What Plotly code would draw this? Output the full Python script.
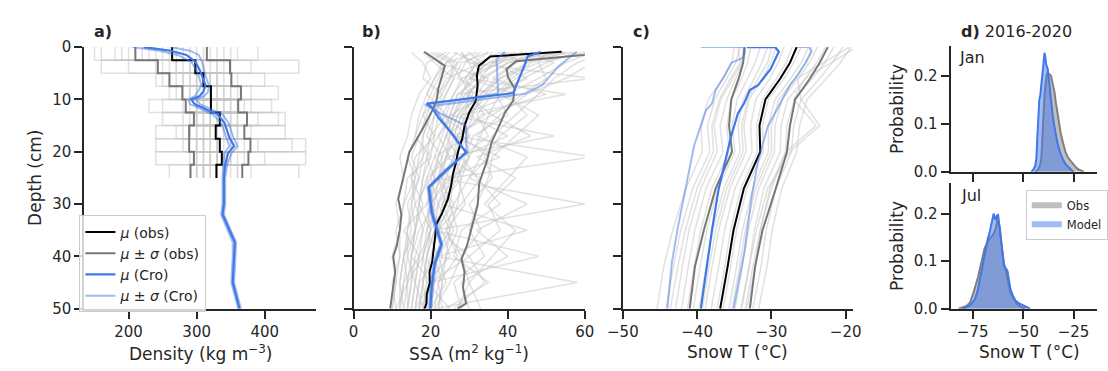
import plotly.graph_objects as go

W, H = 1108, 371
FONT = "DejaVu Sans"
AX = "#262626"

# ---------------- Panel a: density ----------------
a_layer_edges = [0, 2.5, 5, 7.5, 10, 12.5, 15, 17.5, 20, 22.5, 25]
a_obs_mean = [264, 298, 310, 321, 321, 334, 328, 334, 337, 329]
a_obs_lo = [210, 243, 260, 279, 284, 296, 289, 289, 296, 291]
a_obs_hi = [315, 349, 351, 365, 361, 374, 370, 379, 376, 367]
a_obs_profiles = [
    [160, 250, 300, 330, 310, 350, 320, 300, 330, 310],
    [250, 330, 290, 300, 360, 310, 290, 340, 350, 320],
    [300, 260, 340, 350, 300, 330, 380, 310, 300, 340],
    [220, 290, 310, 280, 330, 390, 330, 360, 320, 300],
    [340, 380, 270, 320, 290, 300, 350, 280, 370, 350],
    [180, 200, 320, 360, 340, 320, 300, 330, 340, 290],
    [270, 310, 360, 300, 250, 340, 310, 390, 310, 360],
    [390, 350, 300, 270, 320, 360, 340, 320, 290, 330],
    [230, 160, 280, 340, 370, 290, 270, 300, 360, 310],
    [310, 300, 330, 310, 300, 420, 360, 350, 330, 380],
    [200, 270, 250, 380, 330, 310, 320, 440, 345, 300],
    [280, 330, 310, 290, 350, 330, 290, 310, 400, 340],
    [150, 290, 350, 320, 280, 300, 430, 320, 310, 320],
    [360, 320, 290, 340, 320, 350, 330, 240, 330, 360],
    [240, 450, 320, 310, 410, 340, 310, 350, 340, 330],
    [290, 280, 240, 300, 340, 280, 350, 330, 460, 300],
    [330, 240, 330, 420, 300, 360, 300, 370, 320, 450],
    [210, 310, 300, 330, 230, 320, 340, 460, 300, 310],
    [260, 350, 400, 290, 360, 250, 280, 310, 350, 260],
    [350, 300, 320, 350, 310, 430, 320, 300, 240, 340],
    [190, 340, 280, 260, 350, 320, 240, 350, 330, 330],
    [320, 270, 330, 310, 380, 300, 360, 330, 320, 310],
]
a_cro_depth = [0, 0.7, 1.5, 2.8, 4.5, 5.5, 7.3, 8.5, 9.4, 10.0, 10.9, 12.9, 14.5,
               17.3, 18.9, 20.3, 22.4, 25, 30, 32, 35, 37.3, 40, 45, 50]
a_cro_mean = [222, 262, 285, 298, 305, 308, 313, 310, 304, 292, 297, 331, 341,
              348, 355, 346, 342, 340, 340, 338, 348, 356, 355, 353, 363]
a_cro_lo = [205, 245, 272, 292, 300, 303, 307, 302, 297, 288, 290, 324, 336,
            343, 348, 341, 339, 338, 338, 336, 345, 353, 353, 351, 361]
a_cro_hi = [262, 290, 303, 308, 311, 313, 318, 317, 311, 299, 305, 338, 347,
            354, 360, 351, 345, 342, 342, 340, 350, 358, 357, 355, 365]

# ---------------- Panel b: SSA ----------------
b_mean_depth = [0.9, 1.8, 3.6, 5.5, 7.3, 10.3, 12.5, 15, 17.5, 20, 22, 24.2, 26.5,
                29, 32, 33.8, 36, 38.7, 41, 43, 45, 47.2, 49, 50]
b_obs_mean = [54, 35.5, 32.5, 32, 32.2, 31.7, 30, 28.8, 28.2, 27.1, 26.6, 25.8, 25.3,
              24.5, 22.8, 21.5, 21.2, 20.7, 20.4, 19.7, 19.8, 19, 18.9, 18.4]
b_lo_depth = [0.9, 3.6, 7.9, 10.3, 12, 15.8, 20, 24.2, 29, 32, 35, 38, 40, 43, 45.6, 48, 50]
b_obs_lo = [18.3, 23.7, 22, 21.5, 20.5, 17.8, 14.5, 13.2, 11.6, 12.4, 12, 11.2, 10.3, 10.8,
            10.3, 10.0, 9.5]
b_hi_depth = [1.2, 1.5, 2.7, 4.2, 5.8, 7.9, 10.3, 12.5, 15, 18, 22, 26, 30.2, 33, 35, 38,
              40.5, 43, 46, 49, 50]
b_obs_hi = [62, 59.6, 42.2, 39.7, 40.1, 41.8, 41.4, 39.3, 37.8, 35.9, 34.5, 32.6, 32.2,
            31.2, 30.5, 29.4, 28, 28.8, 28.4, 29.2, 27]
b_cro_depth = [0.9, 1.8, 3.6, 8.8, 10.8, 11.5, 13.5, 16.5, 20.1, 23.7, 26.8, 31.6,
               37.7, 41.3, 45.6, 50]
b_cro_mean = [48.6, 45.2, 44.3, 41.4, 19.0, 20.3, 22.0, 25.5, 29.2, 23.8, 19.5, 20.3,
              22.8, 21.1, 20.3, 19.9]
b_cro_lo_depth = [0.9, 2.4, 8.9, 11.0, 12.5, 15, 20.1, 23.7, 26.8, 31.6, 37.7, 41.3, 45.6, 50]
b_cro_lo = [39.3, 37.1, 37.5, 18.5, 22.0, 29.2, 29.3, 24.1, 19.8, 20.6, 23.1, 21.4, 20.6, 20.2]
b_cro_hi_depth = [0.9, 3.6, 7.3, 8.9, 11.2, 12.2, 18.3, 20.1, 23.7, 26.8, 31.6, 37.7, 41.3,
                  45.6, 50]
b_cro_hi = [57.9, 53.3, 48.9, 44.7, 21.0, 21.5, 27.0, 29.5, 23.5, 19.2, 20.0, 22.5, 20.8,
            20.0, 19.6]
b_gray_depth = [1, 3, 6, 9, 13, 17, 21, 25, 30, 35, 40, 45, 50]
b_gray_profiles = [
    [45, 38, 30, 28, 26, 24, 22, 21, 20, 18, 17, 16, 15],
    [20, 25, 28, 30, 26, 22, 25, 19, 17, 20, 18, 14, 13],
    [58, 50, 42, 38, 35, 33, 30, 28, 27, 25, 24, 22, 23],
    [30, 33, 24, 22, 20, 18, 17, 16, 15, 14, 13, 12, 12],
    [62, 55, 48, 40, 45, 38, 34, 36, 30, 33, 28, 30, 27],
    [25, 22, 35, 32, 28, 30, 26, 24, 22, 21, 19, 18, 17],
    [40, 42, 36, 50, 33, 28, 35, 30, 26, 24, 27, 22, 21],
    [15, 18, 20, 17, 15, 14, 12, 13, 11, 12, 10, 11, 10],
    [52, 45, 40, 35, 30, 40, 28, 32, 38, 28, 26, 35, 24],
    [35, 28, 26, 24, 22, 21, 20, 18, 17, 16, 15, 14, 14],
    [60, 62, 55, 45, 38, 32, 45, 40, 34, 42, 36, 30, 33],
    [28, 30, 32, 27, 25, 23, 21, 25, 20, 19, 22, 17, 16],
    [48, 40, 33, 30, 34, 27, 24, 22, 24, 20, 18, 19, 18],
    [22, 27, 23, 21, 19, 17, 15, 17, 14, 15, 13, 14, 11],
    [55, 35, 30, 42, 28, 26, 30, 27, 23, 26, 22, 24, 20],
    [38, 45, 38, 34, 30, 28, 26, 23, 25, 22, 20, 18, 19],
    [32, 24, 21, 19, 24, 20, 18, 15, 18, 16, 14, 16, 15],
    [65, 58, 52, 48, 42, 36, 33, 30, 45, 32, 40, 28, 30],
    [18, 21, 26, 24, 21, 19, 23, 20, 16, 18, 16, 15, 14],
    [42, 36, 45, 36, 32, 35, 28, 26, 22, 25, 21, 23, 22],
    [50, 48, 38, 33, 27, 25, 24, 33, 28, 22, 30, 20, 18],
    [26, 32, 29, 26, 23, 30, 21, 19, 21, 17, 15, 20, 16],
    [57, 40, 34, 29, 36, 26, 38, 24, 20, 23, 25, 19, 25],
    [33, 29, 27, 35, 25, 22, 19, 21, 19, 13, 17, 13, 12],
    [46, 52, 44, 38, 48, 42, 36, 35, 32, 30, 34, 26, 28],
    [24, 19, 18, 23, 18, 16, 20, 14, 13, 11, 12, 10, 11],
    [36, 34, 31, 28, 31, 24, 27, 22, 26, 21, 19, 21, 17],
    [60, 48, 50, 44, 36, 46, 32, 42, 35, 38, 30, 34, 26],
    [28, 30, 62, 27, 25, 52, 24, 22, 60, 21, 48, 20, 19],
    [40, 35, 30, 55, 28, 26, 62, 25, 23, 45, 22, 58, 21],
    [30, 27, 25, 23, 21, 20, 19, 18, 17, 16, 15, 15, 14],
    [38, 32, 29, 31, 27, 25, 23, 22, 21, 20, 19, 18, 17],
    [27, 24, 22, 20, 18, 21, 16, 15, 16, 14, 14, 13, 12],
    [44, 36, 33, 30, 29, 27, 26, 28, 23, 22, 23, 21, 20],
    [21, 26, 25, 22, 20, 18, 18, 17, 15, 16, 13, 12, 13],
    [35, 31, 34, 29, 26, 24, 22, 20, 22, 19, 18, 17, 16],
    [50, 42, 37, 33, 31, 29, 30, 26, 25, 27, 24, 23, 22],
    [19, 23, 21, 19, 17, 16, 14, 16, 13, 12, 12, 11, 10],
    [41, 38, 28, 26, 24, 26, 24, 23, 19, 20, 17, 16, 18],
    [55, 46, 41, 37, 40, 31, 29, 27, 29, 24, 28, 25, 21],
]

# ---------------- Panel c: snow temperature ----------------
c_depth = [0, 3, 6, 10, 15, 20, 27, 35, 42, 50]
c_obs_mean = [-26.6, -27.5, -28.8, -30.8, -31.6, -31.5, -33.7, -35.1, -35.9, -36.9]
c_obs_lo = [-33.6, -33.8, -34.4, -35.4, -35.7, -35.3, -37.5, -39.1, -40.3, -41.0]
c_obs_hi = [-22.4, -23.5, -24.8, -26.8, -27.5, -27.9, -29.4, -31.2, -32.2, -32.9]
c_gray_profiles = [
    [-35.0, -35.3, -36.5, -38.5, -39.5, -39.3, -41.5, -43.3, -44.5, -45.4],
    [-34.2, -34.8, -36.0, -37.6, -38.6, -38.3, -40.6, -42.2, -43.2, -44.2],
    [-34.5, -34.2, -35.5, -37.0, -38.0, -37.8, -40.0, -41.6, -42.6, -43.6],
    [-33.8, -34.0, -35.2, -36.8, -37.7, -37.3, -39.5, -41.1, -42.0, -42.9],
    [-33.5, -33.8, -34.8, -36.0, -36.9, -36.5, -38.8, -40.3, -41.2, -42.1],
    [-32.8, -33.2, -34.0, -35.4, -36.0, -35.7, -38.0, -39.5, -40.4, -41.3],
    [-31.5, -32.2, -33.2, -34.6, -35.3, -34.9, -37.2, -38.7, -39.6, -40.5],
    [-30.5, -31.3, -32.3, -33.8, -34.5, -34.2, -36.4, -37.9, -38.8, -39.7],
    [-30.0, -30.5, -31.8, -33.2, -34.0, -33.8, -36.0, -37.5, -38.4, -39.3],
    [-29.4, -30.1, -31.2, -33.0, -33.7, -33.4, -35.6, -37.1, -38.0, -38.9],
    [-28.3, -29.1, -30.2, -32.1, -32.8, -32.6, -34.9, -36.3, -37.1, -38.1],
    [-27.2, -28.0, -29.3, -31.2, -32.0, -31.9, -34.1, -35.5, -36.3, -37.3],
    [-26.0, -27.0, -28.3, -30.4, -31.2, -31.1, -33.3, -34.7, -35.5, -36.5],
    [-25.0, -26.0, -27.4, -29.5, -30.4, -30.4, -32.5, -33.9, -34.7, -35.7],
    [-24.5, -25.3, -26.8, -29.0, -30.0, -30.0, -32.1, -33.5, -34.3, -35.3],
    [-23.8, -24.9, -26.4, -28.6, -29.5, -29.6, -31.7, -33.1, -33.9, -34.9],
    [-22.7, -23.9, -25.4, -27.8, -28.7, -28.8, -31.0, -32.3, -33.0, -34.1],
    [-21.6, -22.8, -24.5, -26.9, -27.9, -28.1, -30.2, -31.5, -32.2, -33.3],
    [-20.4, -21.8, -23.5, -26.0, -27.0, -27.3, -29.4, -30.7, -31.4, -32.5],
    [-19.3, -20.7, -22.6, -25.2, -26.2, -26.6, -28.6, -29.9, -30.6, -31.7],
    [-18.5, -22.0, -25.5, -27.0, -24.0, -28.0, -30.0, -31.5, -32.5, -33.5],
    [-19.5, -23.0, -26.5, -26.0, -23.5, -27.5, -30.5, -32.0, -33.0, -34.0],
]
c_cro_depth = [0, 0, 0.9, 4.2, 7.3, 8.2, 10.8, 12.7, 16.9, 21.7, 27.1, 35, 41, 50]
c_cro_mean = [-33.3, -29.5, -29.0, -30.1, -31.8, -32.9, -33.7, -34.5, -35.4, -36.2,
              -37.1, -38.0, -38.6, -39.5]
c_cro_lo_depth = [0, 0, 1.2, 2.1, 3.0, 5.2, 7.3, 8.2, 10.8, 12.1, 18.8, 26.8, 34.5, 41.2, 50]
c_cro_lo = [-39.5, -33.7, -33.6, -33.9, -35.4, -36.2, -37.1, -37.5, -38.0, -38.8, -40.4,
            -41.5, -42.6, -43.4, -44.0]
c_cro_hi_depth = [0, 0, 0.9, 2.7, 5.2, 7.3, 8.8, 10.8, 15.2, 21.8, 29, 38.8, 50]
c_cro_hi = [-26.6, -24.9, -24.6, -25.3, -26.4, -27.5, -28.1, -28.8, -30.5, -31.8, -32.7,
            -33.6, -35.1]

# ---------------- Panel d: distributions ----------------
jan_x_obs = [-44, -42.6, -41.5, -41, -40.6, -40.2, -39.8, -39.4, -38.8, -38.2, -37.5, -36.8,
             -36.2, -35.4, -34.5, -33.8, -33, -32.2, -31.4, -30.2, -29, -27.5, -25.8, -24,
             -22.6, -20]
jan_p_obs = [0, 0.004, 0.015, 0.028, 0.06, 0.108, 0.14, 0.161, 0.185, 0.205, 0.206, 0.203,
             0.201, 0.185, 0.168, 0.145, 0.121, 0.1, 0.081, 0.06, 0.041, 0.028, 0.018, 0.01,
             0.005, 0]
jan_x_model = [-46, -45, -44, -43.4, -43, -42.6, -42, -41.5, -41, -40.6, -40.2, -39.8, -39.4,
               -39, -38.6, -37.8, -37, -36.2, -35.4, -34.5, -33.8, -33, -32, -30.6, -29,
               -27.4, -26, -25]
jan_p_model = [0, 0.004, 0.012, 0.03, 0.07, 0.115, 0.15, 0.16, 0.18, 0.2, 0.22, 0.235, 0.249,
               0.24, 0.225, 0.215, 0.18, 0.148, 0.12, 0.095, 0.075, 0.061, 0.045, 0.028,
               0.016, 0.008, 0.003, 0]
jul_x_obs = [-82, -80.3, -78, -76.3, -74.5, -72.3, -70.5, -69.1, -67.8, -66.7, -65.5, -64.3,
             -63.5, -62.7, -62, -61.4, -60.8, -60.2, -59.5, -58.7, -57.5, -56.2, -54.5, -53,
             -51, -49]
jul_p_obs = [0, 0.002, 0.006, 0.013, 0.035, 0.067, 0.1, 0.127, 0.138, 0.147, 0.152, 0.16,
             0.17, 0.187, 0.18, 0.167, 0.14, 0.113, 0.095, 0.083, 0.06, 0.033, 0.02, 0.01,
             0.004, 0]
jul_x_model = [-80, -78.7, -76, -73.9, -72.5, -71.5, -70.2, -69.1, -68.2, -67.5, -66.6, -65.9,
               -65.2, -64.6, -64, -63.5, -63, -62.4, -61.8, -61.1, -60.3, -59.5, -58.6, -57.8,
               -57, -56.2, -55, -53.8, -52, -49.8, -46.6]
jul_p_model = [0, 0.002, 0.008, 0.02, 0.038, 0.06, 0.09, 0.12, 0.135, 0.147, 0.16, 0.173, 0.19,
               0.2, 0.19, 0.187, 0.196, 0.197, 0.175, 0.147, 0.115, 0.09, 0.085, 0.08, 0.06,
               0.04, 0.027, 0.017, 0.011, 0.007, 0]

# ---------------- styles ----------------
C_GRAY_BG = "rgba(195,195,195,0.5)"
C_SIG_OBS = "#777777"
C_CRO = "#4178e6"
C_CRO_SIG = "rgba(65,120,230,0.5)"
C_OBS_FILL = "rgba(128,128,128,0.5)"
C_MOD_FILL = "rgba(65,120,235,0.5)"

fig = go.Figure()


def line(x, y, xa, ya, color, width, name=None, legend=False, rank=None, group=None):
    fig.add_trace(go.Scatter(
        x=x, y=y, xaxis=xa, yaxis=ya, mode="lines",
        line=dict(color=color, width=width), name=name,
        showlegend=legend, legendrank=rank if rank else 1000,
        legendgroup=group, hoverinfo="skip"))


def steps(vals, edges):
    xs, ys = [], []
    for i, v in enumerate(vals):
        xs += [v, v]
        ys += [edges[i], edges[i + 1]]
    return xs, ys


# panel a
for prof in a_obs_profiles:
    xs, ys = steps(prof, a_layer_edges)
    line(xs, ys, "x", "y", C_GRAY_BG, 1.5)
xs, ys = steps(a_obs_lo, a_layer_edges)
line(xs, ys, "x", "y", C_SIG_OBS, 2, "<i>μ</i> ± <i>σ</i> (obs)", True, 2, "so")
xs, ys = steps(a_obs_hi, a_layer_edges)
line(xs, ys, "x", "y", C_SIG_OBS, 2, group="so")
xs, ys = steps(a_obs_mean, a_layer_edges)
line(xs, ys, "x", "y", "black", 2, "<i>μ</i> (obs)", True, 1)
line(a_cro_lo, a_cro_depth, "x", "y", C_CRO_SIG, 2, "<i>μ</i> ± <i>σ</i> (Cro)", True, 4, "sc")
line(a_cro_hi, a_cro_depth, "x", "y", C_CRO_SIG, 2, group="sc")
line(a_cro_mean, a_cro_depth, "x", "y", C_CRO, 2.2, "<i>μ</i> (Cro)", True, 3)

# panel b
for prof in b_gray_profiles:
    line(prof, b_gray_depth, "x2", "y2", C_GRAY_BG, 1.5)
line(b_obs_lo, b_lo_depth, "x2", "y2", C_SIG_OBS, 2)
line(b_obs_hi, b_hi_depth, "x2", "y2", C_SIG_OBS, 2)
line(b_obs_mean, b_mean_depth, "x2", "y2", "black", 2)
line(b_cro_lo, b_cro_lo_depth, "x2", "y2", C_CRO_SIG, 2)
line(b_cro_hi, b_cro_hi_depth, "x2", "y2", C_CRO_SIG, 2)
line(b_cro_mean, b_cro_depth, "x2", "y2", C_CRO, 2.2)

# panel c
for prof in c_gray_profiles:
    line(prof, c_depth, "x3", "y3", C_GRAY_BG, 1.5)
line(c_obs_lo, c_depth, "x3", "y3", C_SIG_OBS, 2)
line(c_obs_hi, c_depth, "x3", "y3", C_SIG_OBS, 2)
line(c_obs_mean, c_depth, "x3", "y3", "black", 2)
line(c_cro_lo, c_cro_lo_depth, "x3", "y3", C_CRO_SIG, 2)
line(c_cro_hi, c_cro_hi_depth, "x3", "y3", C_CRO_SIG, 2)
line(c_cro_mean, c_cro_depth, "x3", "y3", C_CRO, 2.2)


# panel d
def dist(x, p, xa, ya, fillc, linec, name, legend):
    fig.add_trace(go.Scatter(
        x=x, y=p, xaxis=xa, yaxis=ya, mode="none", fill="tozeroy",
        fillcolor=fillc, name=name, showlegend=legend, legend="legend2",
        hoverinfo="skip"))
    fig.add_trace(go.Scatter(
        x=x, y=p, xaxis=xa, yaxis=ya, mode="lines", line=dict(color=linec, width=2),
        showlegend=False, hoverinfo="skip"))


dist(jan_x_obs, jan_p_obs, "x4", "y4", C_OBS_FILL, "#808080", "Obs", False)
dist(jan_x_model, jan_p_model, "x4", "y4", C_MOD_FILL, C_CRO, "Model", False)
dist(jul_x_obs, jul_p_obs, "x5", "y5", C_OBS_FILL, "#808080", "Obs", True)
dist(jul_x_model, jul_p_model, "x5", "y5", C_MOD_FILL, C_CRO, "Model", True)


def px_x(p):
    return p / W


def px_y(p):
    return 1 - p / H


axis_common = dict(showline=True, linecolor=AX, linewidth=2, ticks="outside", ticklen=8,
                   tickwidth=2, tickcolor=AX, showgrid=False, zeroline=False,
                   ticklabeloverflow="allow",
                   tickfont=dict(family=FONT, size=15, color=AX))

dom_y = [px_y(315), px_y(40)]
fig.update_layout(
    width=W, height=H, margin=dict(l=0, r=0, t=0, b=0),
    paper_bgcolor="white", plot_bgcolor="white",
    font=dict(family=FONT, color=AX),
    xaxis=dict(domain=[px_x(70), px_x(308)], range=[135, 476], tickvals=[200, 300, 400],
               anchor="y", **axis_common),
    yaxis=dict(domain=dom_y, range=[50, 0], tickvals=[0, 10, 20, 30, 40, 50], anchor="x",
               **axis_common),
    xaxis2=dict(domain=[px_x(346), px_x(583)], range=[0, 60], tickvals=[0, 20, 40, 60],
                anchor="y2", **axis_common),
    yaxis2=dict(domain=dom_y, range=[50, 0], tickvals=[0, 10, 20, 30, 40, 50],
                showticklabels=False, anchor="x2", **axis_common),
    xaxis3=dict(domain=[px_x(622), px_x(858)], range=[-50, -19],
                tickvals=[-50, -40, -30, -20], anchor="y3", **axis_common),
    yaxis3=dict(domain=dom_y, range=[50, 0], tickvals=[0, 10, 20, 30, 40, 50],
                showticklabels=False, anchor="x3", **axis_common),
    xaxis4=dict(domain=[px_x(958), 1], range=[-85.9, -13.4], tickvals=[-75, -50, -25],
                showticklabels=False, anchor="y4", **axis_common),
    yaxis4=dict(domain=[px_y(171), px_y(39)], range=[0, 0.263], tickvals=[0, 0.1, 0.2],
                ticktext=["0.0", "0.1", "0.2"], anchor="x4", **axis_common),
    xaxis5=dict(domain=[px_x(958), 1], range=[-85.9, -13.4], tickvals=[-75, -50, -25],
                ticktext=["−75", "−50", "−25"], anchor="y5", **axis_common),
    yaxis5=dict(domain=[px_y(315), px_y(183)], range=[0, 0.264], tickvals=[0, 0.1, 0.2],
                ticktext=["0.0", "0.1", "0.2"], anchor="x5", **axis_common),
    legend=dict(x=px_x(65), y=px_y(217), xanchor="left", yanchor="top",
                bordercolor="#cccccc", borderwidth=1, bgcolor="rgba(255,255,255,0.8)",
                font=dict(family=FONT, size=14, color=AX), itemwidth=30,
                tracegroupgap=0),
    legend2=dict(x=px_x(1035), y=px_y(190), xanchor="left", yanchor="top",
                 bordercolor="#cccccc", borderwidth=1, bgcolor="rgba(255,255,255,0.8)",
                 font=dict(family=FONT, size=11.5, color=AX), itemwidth=30,
                 tracegroupgap=0),
)


def ann(text, x, y, size, angle=0, xanchor="center", yanchor="middle"):
    fig.add_annotation(text=text, x=px_x(x), y=px_y(y), xref="paper", yref="paper",
                       showarrow=False, textangle=angle, xanchor=xanchor, yanchor=yanchor,
                       font=dict(family=FONT, size=size, color=AX))


# axis titles
ann("Depth (cm)", 20, 178, 17, angle=-90)
ann("Density (kg m<sup>−3</sup>)", 189, 362, 17)
ann("SSA (m<sup>2</sup> kg<sup>−1</sup>)", 464, 362, 17)
ann("Snow T (°C)", 740, 361, 17)
ann("Snow T (°C)", 1039, 361, 17)
ann("Probability", 903, 105, 17, angle=-90)
ann("Probability", 903, 249, 17, angle=-90)
# panel titles
ann("<b>a)</b>", 78, 24, 16, xanchor="left")
ann("<b>b)</b>", 353, 24, 16, xanchor="left")
ann("<b>c)</b>", 630, 24, 16, xanchor="left")
ann("<b>d)</b> 2016-2020", 967, 24, 16, xanchor="left")
# month labels
ann("Jan", 964, 51, 16, xanchor="left")
ann("Jul", 967, 196, 16, xanchor="left")

fig.write_html("out.html")
